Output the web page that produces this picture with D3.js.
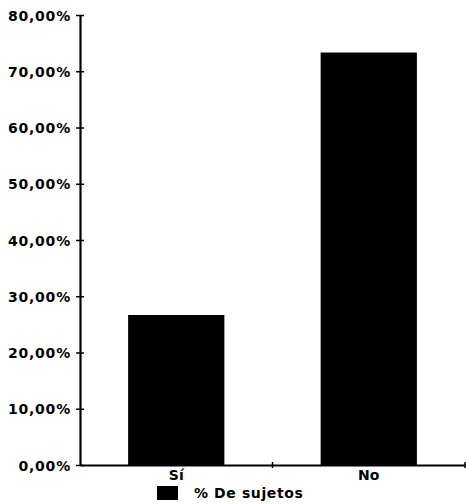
<!DOCTYPE html>
<html>
<head>
<meta charset="utf-8">
<script src="https://cdn.jsdelivr.net/npm/d3@7"></script>
<style>
  body { margin: 0; background: #fff; }
  text { font-family: "DejaVu Sans", sans-serif; font-weight: bold; fill: #000; }
</style>
</head>
<body>
<div id="chart"></div>
<script>
// data
var categories = ["Sí", "No"];
var sujetos = [26.67, 73.33];
var yTicks = [0, 10, 20, 30, 40, 50, 60, 70, 80];
var seriesName = "% De sujetos";

var svgWidth = 466;
var svgHeight = 504;

var margin = { top: 15, right: 1, bottom: 39, left: 80 };
var width = svgWidth - margin.left - margin.right;
var height = svgHeight - margin.top - margin.bottom;

var svg = d3.select("#chart")
  .append("svg")
  .attr("width", svgWidth)
  .attr("height", svgHeight);

var chartGroup = svg.append("g")
  .attr("transform", `translate(${margin.left}, ${margin.top})`);

// scales
var xScale = d3.scaleBand()
  .domain(categories)
  .range([0, width])
  .paddingInner(0.5)
  .paddingOuter(0.25);

var yScale = d3.scaleLinear()
  .domain([0, 80])
  .range([height, 0]);

var fmt = function(d) { return d3.format(".2f")(d).replace(".", ",") + "%"; };

// bars
chartGroup.selectAll("rect.bar")
  .data(sujetos)
  .enter()
  .append("rect")
  .attr("class", "bar")
  .attr("x", (d, i) => xScale(categories[i]))
  .attr("y", d => yScale(d))
  .attr("width", xScale.bandwidth())
  .attr("height", d => height - yScale(d))
  .attr("fill", "#000");

// y axis: ticks cross the line
var leftAxis = d3.axisLeft(yScale)
  .tickValues(yTicks)
  .tickFormat(fmt)
  .tickSizeInner(4)
  .tickSizeOuter(0)
  .tickPadding(5);

var yAxis = chartGroup.append("g").call(leftAxis);
yAxis.select(".domain").attr("stroke-width", 2.2);
yAxis.selectAll(".tick line").attr("x2", 4).attr("x1", -4).attr("stroke-width", 1.5);
yAxis.selectAll(".tick text")
  .attr("font-size", "14px")
  .attr("font-weight", "600")
  .attr("letter-spacing", "0.8px")
  .attr("dy", "0.36em");

// x axis
var bottomAxis = d3.axisBottom(xScale)
  .tickSize(0)
  .tickPadding(5);

var xAxis = chartGroup.append("g")
  .attr("transform", `translate(0, ${height})`)
  .call(bottomAxis);
xAxis.select(".domain").attr("stroke-width", 2);
xAxis.selectAll(".tick text").attr("font-size", "14px").attr("font-weight", "600");

// boundary ticks between categories
var bounds = [width / 2, width];
xAxis.selectAll("line.bound")
  .data(bounds)
  .enter()
  .append("line")
  .attr("class", "bound")
  .attr("x1", d => d)
  .attr("x2", d => d)
  .attr("y1", -3)
  .attr("y2", 3)
  .attr("stroke", "#000")
  .attr("stroke-width", 1.5);

// legend
var legend = svg.append("g")
  .attr("transform", `translate(157, 486)`);
legend.append("rect")
  .attr("width", 21)
  .attr("height", 14)
  .attr("fill", "#000");
legend.append("text")
  .attr("x", 37)
  .attr("y", 12)
  .attr("font-size", "14px")
  .attr("font-weight", "600")
  .attr("letter-spacing", "0.6px")
  .text(seriesName);
</script>
</body>
</html>
